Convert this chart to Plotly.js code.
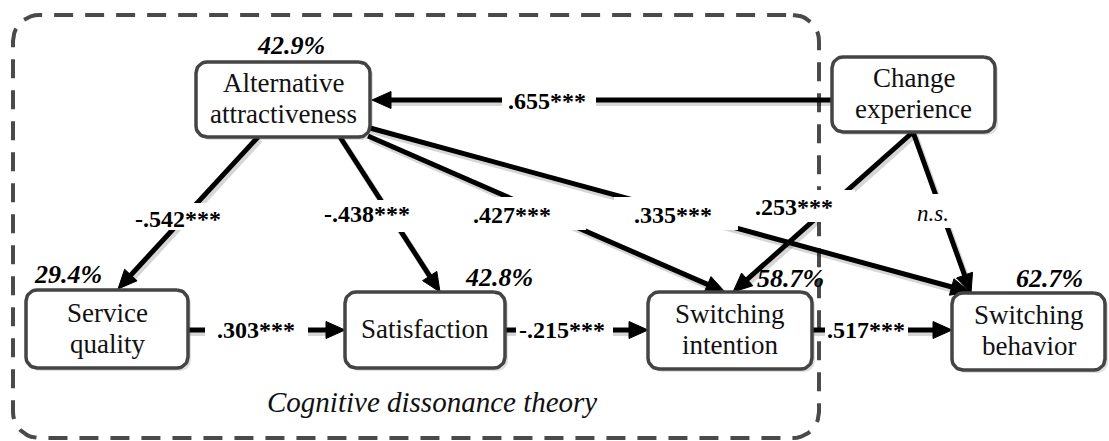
<!DOCTYPE html>
<html><head><meta charset="utf-8">
<script src="https://cdn.plot.ly/plotly-3.0.1.min.js"></script>
<style>
html,body{margin:0;padding:0;background:#fff;}
#chart{width:1109px;height:441px;}
</style>
</head><body><div id="chart"></div>
<script>
// ---------------- data ----------------
const nodeNames = ["Alternative<br>attractiveness", "Change<br>experience", "Service<br>quality",
                   "Satisfaction", "Switching<br>intention", "Switching<br>behavior"];
const nodeR2 = ["42.9%", "", "29.4%", "42.8%", "58.7%", "62.7%"];
const pathFrom = [1, 0, 0, 0, 0, 1, 1, 2, 3, 4];
const pathTo   = [0, 2, 3, 4, 5, 4, 5, 3, 4, 5];
const pathCoef = [".655***", "-.542***", "-.438***", ".427***", ".335***", ".253***", "n.s.",
                  ".303***", "-.215***", ".517***"];
const frameLabel = "Cognitive dissonance theory";

// ---------------- layout geometry (pixel space) ----------------
const nodeBox = [[196,62,370,137],[832,57,995,132],[26,290,188,368],
                 [345,292,505,368],[648,292,812,369],[952,293,1105,370]];
const r2Pos = [[291,45], null, [68,274], [499,277], [790,278], [1049,278]];
const pathGeom = [ // start, end
  [[832,100],[372,100]], [[258,137],[118,289]], [[340,137],[440,292]],
  [[368,136],[725,292]], [[370,128],[970,292]], [[913,132],[733,292]],
  [[913,132],[971,293]], [[188,330],[345,330]], [[505,330],[648,330]],
  [[812,330],[952,330]]];
const labelPos = [[547,101],[178,219],[367,214],[512,215],[673,215],[794,207],[933,213],
                  [256,330],[562,330],[866,330]];
const labelBg = [[502,90,596,112],[130,203,232,230],[318,200,416,232],[468,197,586,230],
                 [614,197,738,230],[750,190,855,222],[905,194,958,228],[205,318,308,342],
                 [516,318,613,342],[825,318,908,342]];
const frame = [13,15,819,438];
const framePos = [432,402];

const SERIF = 'Liberation Serif';

function rrectPts(b, r) {
  const [x0,y0,x1,y1] = b;
  const xs = [], ys = [];
  const n = 10;
  const corners = [[x1-r, y0+r, -90, 0], [x1-r, y1-r, 0, 90], [x0+r, y1-r, 90, 180], [x0+r, y0+r, 180, 270]];
  corners.forEach(c => {
    for (let k = 0; k <= n; k++) {
      const a = (c[2] + (c[3]-c[2]) * k / n) * Math.PI / 180;
      xs.push(c[0] + r*Math.cos(a));
      ys.push(c[1] + r*Math.sin(a));
    }
  });
  xs.push(xs[0]); ys.push(ys[0]);
  return [xs, ys];
}
function rectPts(b) {
  return [[b[0], b[2], b[2], b[0], b[0]], [b[1], b[1], b[3], b[3], b[1]]];
}

const traces = [];
function lineTrace(xs, ys, color, width, dash) {
  traces.push({type:'scatter', mode:'lines', x:xs, y:ys, hoverinfo:'skip', showlegend:false,
    line:{color:color, width:width, dash:dash || 'solid'}});
}
function fillTrace(xs, ys, fill, lineColor, lineWidth) {
  traces.push({type:'scatter', mode:'lines', x:xs, y:ys, hoverinfo:'skip', showlegend:false,
    fill:'toself', fillcolor:fill, line:{color:lineColor, width:lineWidth}});
}

// frame
{
  const p = rrectPts(frame, 26);
  lineTrace(p[0], p[1], '#4a4a4a', 4, '19px,12px');
}

// paths
const L = 19, W = 8.5;
const headPts = [];
pathFrom.forEach((f, i) => {
  const s = pathGeom[i][0], e = pathGeom[i][1];
  const dx = e[0]-s[0], dy = e[1]-s[1];
  const len = Math.hypot(dx, dy);
  const ux = dx/len, uy = dy/len;
  const nx = -uy, ny = ux;
  const bx = e[0]-ux*L, by = e[1]-uy*L;
  const lx = e[0]-ux*(L-3), ly = e[1]-uy*(L-3);
  lineTrace([s[0]+2, lx+2], [s[1]+3, ly+3], 'rgba(0,0,0,0.16)', 6);
  lineTrace([s[0], lx], [s[1], ly], '#000', 5);
  headPts.push([[e[0], bx+nx*W, bx-nx*W, e[0]], [e[1], by+ny*W, by-ny*W, e[1]]]);
});
headPts.forEach(h => fillTrace(h[0], h[1], '#000', '#000', 1));

// label backgrounds
labelBg.forEach(b => { const p = rectPts(b); fillTrace(p[0], p[1], '#ffffff', 'rgba(255,255,255,0)', 0); });

// nodes
nodeBox.forEach(b => {
  const sh = rrectPts([b[0]+3, b[1]+3, b[2]+3, b[3]+3], 11);
  fillTrace(sh[0], sh[1], 'rgba(0,0,0,0.12)', 'rgba(0,0,0,0)', 0);
  const p = rrectPts(b, 11);
  fillTrace(p[0], p[1], '#ffffff', '#444444', 3.5);
});

// texts
const annotations = [];
nodeNames.forEach((n, i) => {
  const b = nodeBox[i];
  const cx = (b[0]+b[2])/2, cy = (b[1]+b[3])/2;
  const lines = n.split('<br>');
  lines.forEach((t, k) => {
    const off = (k - (lines.length-1)/2) * 31;
    annotations.push({x:cx, y:cy+off-1, xref:'x', yref:'y', text:t, showarrow:false,
      xanchor:'center', yanchor:'middle', font:{family:SERIF, size:27, color:'#111'}});
  });
  if (nodeR2[i]) {
    annotations.push({x:r2Pos[i][0], y:r2Pos[i][1], xref:'x', yref:'y', text:'<b><i>' + nodeR2[i] + '</i></b>', showarrow:false,
      xanchor:'center', yanchor:'middle', font:{family:SERIF, size:26, color:'#000'}});
  }
});
pathCoef.forEach((c, i) => {
  const ns = c === 'n.s.';
  annotations.push({x:labelPos[i][0], y:labelPos[i][1], xref:'x', yref:'y',
    text: ns ? '<i>' + c + '</i>' : '<b>' + c + '</b>', showarrow:false,
    xanchor:'center', yanchor:'middle',
    font:{family:SERIF, size: ns ? 23 : 24, color:'#000'}});
});
annotations.push({x:framePos[0], y:framePos[1], xref:'x', yref:'y', text:'<i>' + frameLabel + '</i>', showarrow:false,
  xanchor:'center', yanchor:'middle', font:{family:SERIF, size:29, color:'#111'}});

const layout = {
  width:1109, height:441, margin:{l:0,r:0,t:0,b:0},
  paper_bgcolor:'#fff', plot_bgcolor:'#fff', showlegend:false, hovermode:false,
  xaxis:{range:[0,1109], visible:false, fixedrange:true},
  yaxis:{range:[441,0], visible:false, fixedrange:true},
  annotations
};
Plotly.newPlot('chart', traces, layout, {displayModeBar:false});
</script>
</body></html>
